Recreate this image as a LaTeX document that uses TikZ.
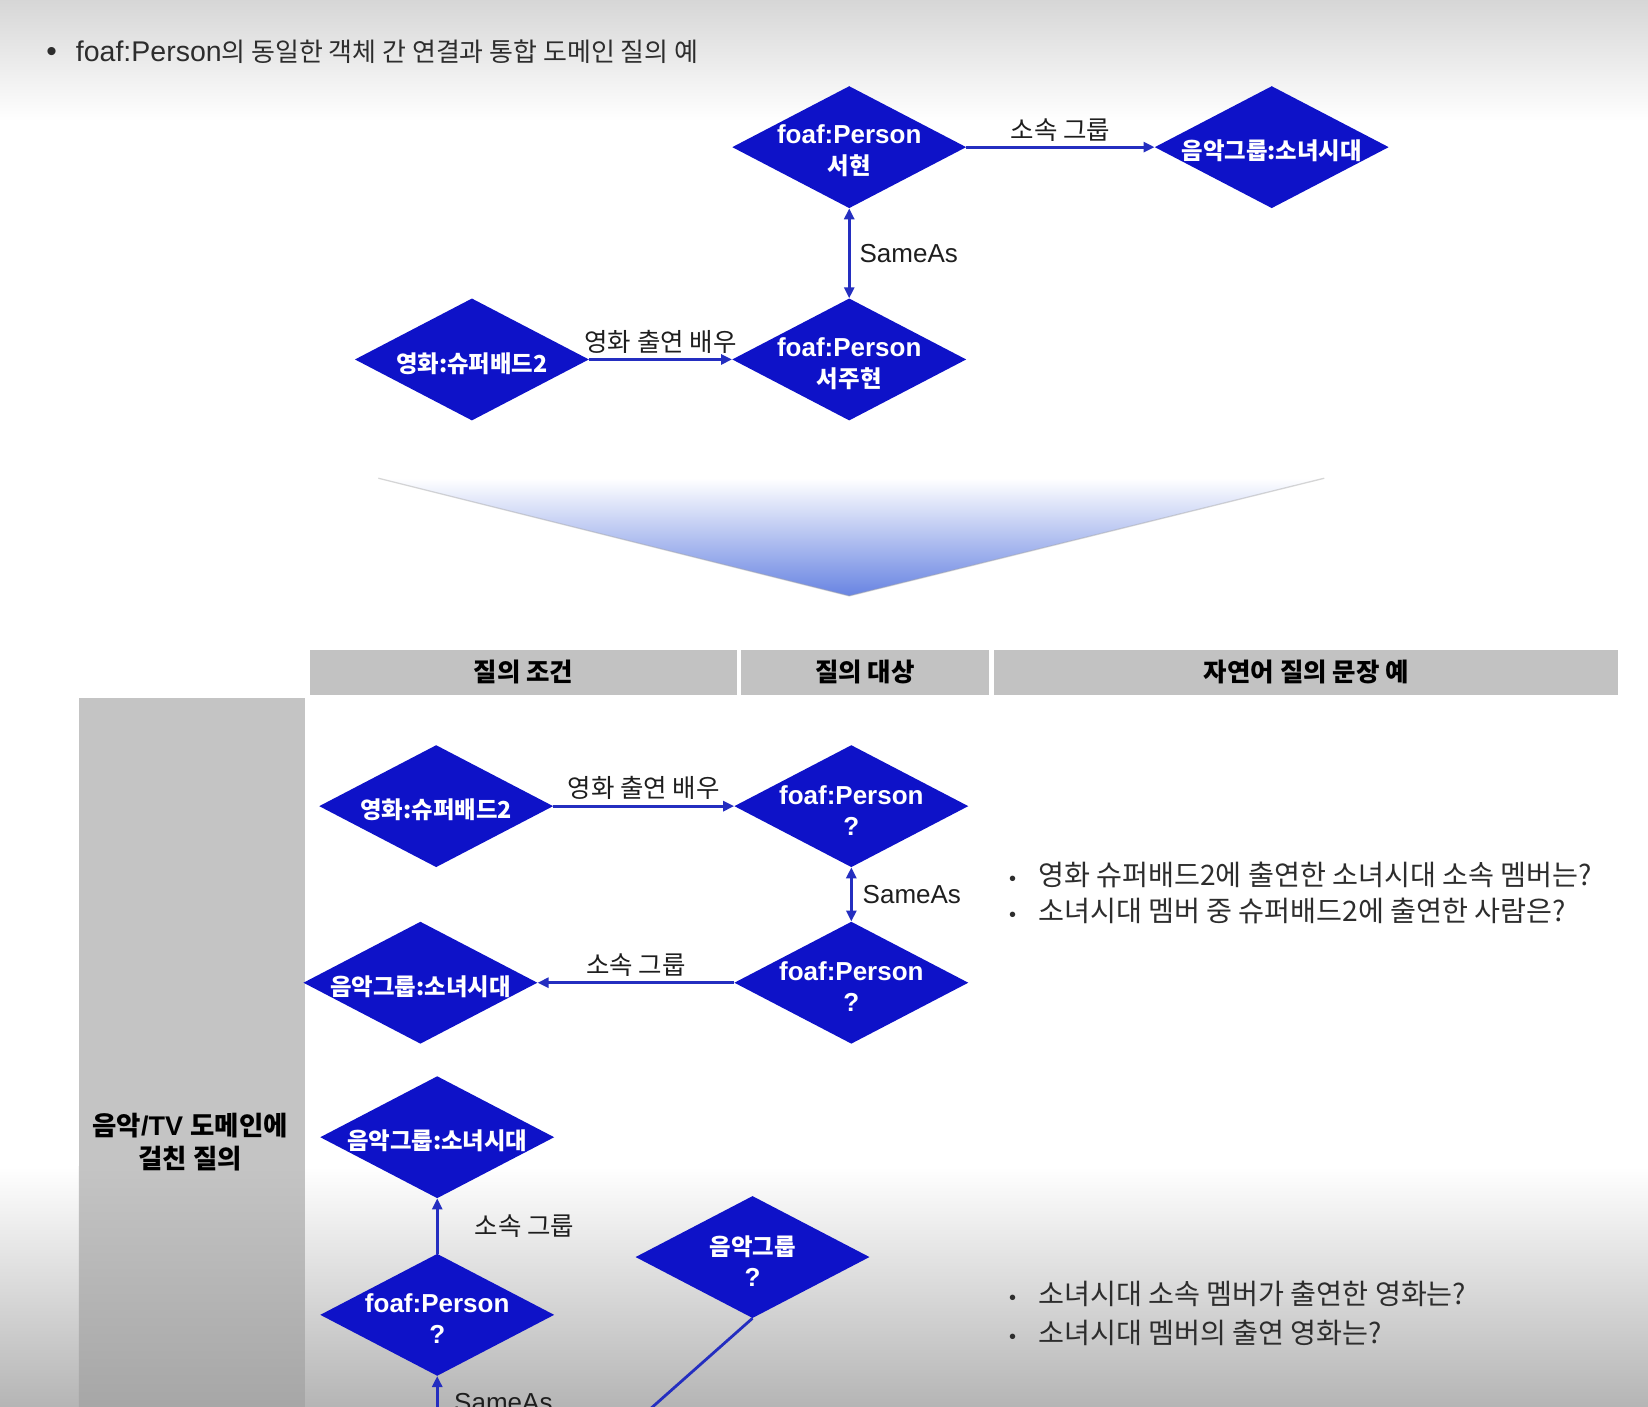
\documentclass[tikz,border=0pt]{standalone}
\usepackage{fontspec}
\setmainfont{Liberation Sans}
\newfontfamily\kr[Scale=0.9]{Noto Sans CJK KR}
\newfontfamily\krb[Scale=0.98]{Noto Sans CJK KR}
\usetikzlibrary{shapes.geometric,arrows.meta}
\definecolor{dblue}{RGB}{14,18,200}
\definecolor{lblue}{RGB}{36,46,192}
\definecolor{txt}{RGB}{30,30,30}
\definecolor{ttl}{RGB}{45,45,45}
\definecolor{hdrgray}{RGB}{194,194,194}
\definecolor{colgray}{RGB}{196,196,196}
\definecolor{tri}{RGB}{104,132,226}
\tikzset{
  dia/.style={diamond, fill=dblue, draw=none, minimum width=234pt, minimum height=122pt, inner sep=0pt},
  dtxt/.style={text=white, font=\bfseries\fontsize{26}{31}\selectfont, align=center, inner sep=0pt, yshift=-4pt},
  arr/.style={draw=lblue, line width=2.8pt, -{Triangle[length=11pt,width=10pt]}},
  darr/.style={draw=lblue, line width=2.8pt, {Triangle[length=11pt,width=10pt]}-{Triangle[length=11pt,width=10pt]}},
  plain/.style={draw=lblue, line width=2.8pt},
  lbl/.style={font=\fontsize{26}{28}\selectfont, text=txt, inner sep=0pt},
  hdr/.style={fill=hdrgray, minimum height=45pt, font=\bfseries\fontsize{26}{28}\selectfont, text=black, inner sep=0pt},
  btxt/.style={font=\fontsize{28.8}{30}\selectfont, text=ttl, inner sep=0pt, anchor=west},
}
\newcommand{\qbul}{{\fontsize{20}{20}\selectfont\textbullet}\hspace{22pt}}
\begin{document}
\begin{tikzpicture}[x=1.051pt,y=-1.051pt]
\useasboundingbox (0,0) rectangle (1568,1338);
\clip (0,0) rectangle (1568,1338);
% background
\fill[white] (0,0) rectangle (1568,1338);
\shade[top color=gray!32, bottom color=white] (0,0) rectangle (1568,115);
\shade[top color=white, bottom color=gray!58] (0,1110) rectangle (1568,1338);

% title
\node[btxt] (title) at (44,49) {{\fontsize{30}{30}\selectfont\textbullet}\hspace{19pt}{\fontsize{28.5}{30}\selectfont foaf:Person}{\krb\fontsize{26.5}{30}\selectfont 의 동일한 객체 간 연결과 통합 도메인 질의 예}};

% upper graph
\node[dia, label={[dtxt]center:{foaf:Person\\{\kr 서현}}}] (a) at (808,140) {};
\node[dia, label={[dtxt]center:{\kr 음악그룹:소녀시대}}] (b) at (1210,140) {};
\node[dia, label={[dtxt]center:{foaf:Person\\{\kr 서주현}}}] (c) at (808,342) {};
\node[dia, label={[dtxt]center:{\kr 영화:슈퍼배드2}}] (d) at (449,342) {};
\draw[arr] (a.east) -- node[lbl, above=4pt] {\krb 소속 그룹} (b.west);
\draw[darr] (a.south) -- node[lbl, right=9pt] {SameAs} (c.north);
\draw[arr] (d.east) -- node[lbl, above=5pt] {\krb 영화 출연 배우} (c.west);

% gradient arrow
\shade[top color=white, bottom color=tri] (360,455) -- (1260,455) -- (808,567) -- cycle;
\draw[gray!70, line width=1.3pt, opacity=0.45] (360,455) -- (808,567) -- (1260,455);

% table header
\node[hdr, minimum width=427pt] (h1) at (498,639.5) {\krb 질의 조건};
\node[hdr, minimum width=248pt] (h2) at (823,639.5) {\krb 질의 대상};
\node[hdr, minimum width=624pt] (h3) at (1243,639.5) {\krb 자연어 질의 문장 예};

% left column
\fill[colgray] (75,664) rectangle (290,1111);
\shade[top color=colgray, bottom color=gray!70] (75,1110) rectangle (290,1345);
\node[font=\bfseries\fontsize{27}{33}\selectfont, align=center, text=black, inner sep=0pt] (dom) at (181,1087) {{\krb 음악}/TV {\krb 도메인에}\\{\krb 걸친 질의}};

% first query
\node[dia, label={[dtxt]center:{\kr 영화:슈퍼배드2}}] (e) at (415,767) {};
\node[dia, label={[dtxt]center:{foaf:Person\\?}}] (f) at (810,767) {};
\node[dia, label={[dtxt]center:{foaf:Person\\?}}] (g) at (810,935) {};
\node[dia, label={[dtxt]center:{\kr 음악그룹:소녀시대}}] (h) at (400,935) {};
\draw[arr] (e.east) -- node[lbl, above=5pt] {\krb 영화 출연 배우} (f.west);
\draw[darr] (f.south) -- node[lbl, right=10pt] {SameAs} (g.north);
\draw[arr] (g.west) -- node[lbl, above=5pt] {\krb 소속 그룹} (h.east);

% second query
\node[dia, label={[dtxt]center:{\kr 음악그룹:소녀시대}}] (i) at (416,1082) {};
\node[dia, label={[dtxt]center:{foaf:Person\\?}}] (j) at (416,1251) {};
\node[dia, label={[dtxt]center:{{\kr 음악그룹}\\?}}] (k) at (716,1196) {};
\draw[arr] (j.north) -- node[lbl, right=36pt] {\krb 소속 그룹} (i.south);
\coordinate (jin) at (416,1350);
\coordinate (kout) at (608,1350);
\draw[arr] (jin) -- (j.south);
\node[lbl, anchor=west] (sa3) at (432,1334) {SameAs};
\draw[plain] (k.south) -- (kout);

% questions
\node[btxt] (q1) at (960,832) {\qbul{\krb 영화 슈퍼배드2에 출연한 소녀시대 소속 멤버는?}};
\node[btxt] (q2) at (960,867) {\qbul{\krb 소녀시대 멤버 중 슈퍼배드2에 출연한 사람은?}};
\node[btxt] (q3) at (960,1231) {\qbul{\krb 소녀시대 소속 멤버가 출연한 영화는?}};
\node[btxt] (q4) at (960,1268) {\qbul{\krb 소녀시대 멤버의 출연 영화는?}};
\end{tikzpicture}
\end{document}
